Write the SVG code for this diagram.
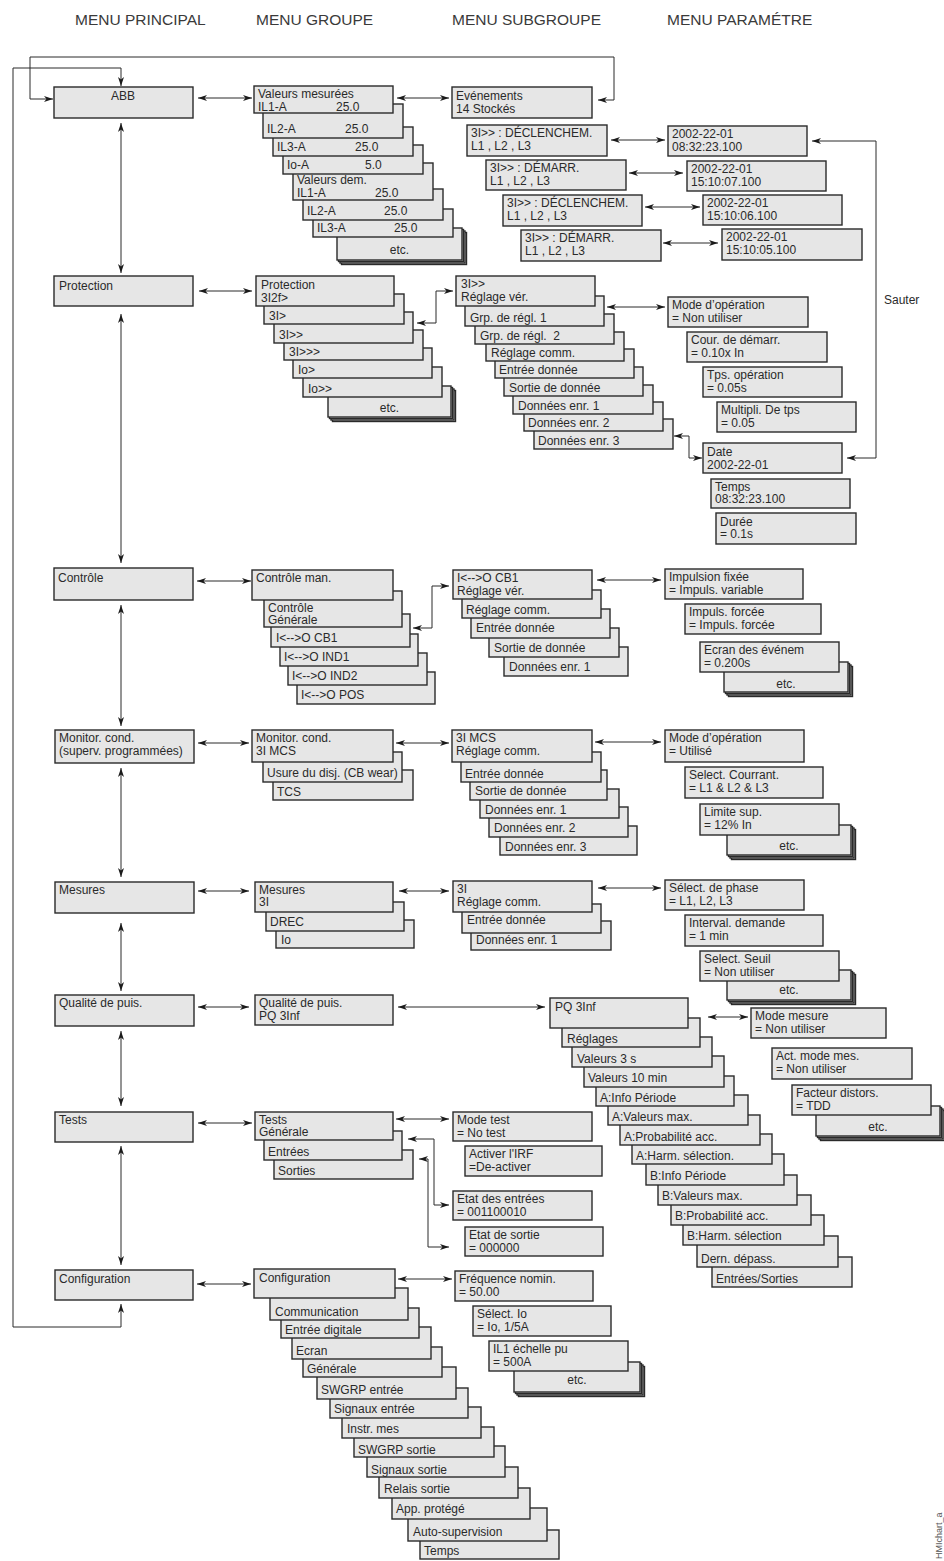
<svg xmlns="http://www.w3.org/2000/svg" width="944" height="1561" viewBox="0 0 944 1561">
<style>
.b{fill:#e6e6e6;stroke:#2a2a2a;stroke-width:1.4}
.t{font-family:"Liberation Sans",Arial,Helvetica,sans-serif;font-size:12px;fill:#2a2a2a}
.m{text-anchor:middle}
.h{font-family:"Liberation Sans",Arial,Helvetica,sans-serif;font-size:15.5px;fill:#3a3a3a}
.c{fill:none;stroke:#2a2a2a;stroke-width:1}
.d{marker-start:url(#a);marker-end:url(#a)}
.e{marker-end:url(#a)}
</style>
<defs>
<marker id="a" viewBox="0 0 9 6" refX="9" refY="3" markerWidth="9" markerHeight="6" markerUnits="userSpaceOnUse" orient="auto-start-reverse"><path d="M0,0 L9,3 L0,6 L2.5,3 z" fill="#1a1a1a"/></marker>
</defs>
<rect width="944" height="1561" fill="#fff"/>

<g id="headers">
<text class="h" x="75" y="25">MENU PRINCIPAL</text>
<text class="h" x="256" y="25">MENU GROUPE</text>
<text class="h" x="452" y="25">MENU SUBGROUPE</text>
<text class="h" x="667" y="25">MENU PARAMÉTRE</text>
</g>

<g id="connectors">
<path class="c d" d="M121,1304 V1327 H13 V68 H121 V86"/>
<path class="c d" d="M53,99 H30 V57 H614 V100 H598"/>
<path class="c d" d="M121,123 V273"/>
<path class="c d" d="M121,314 V563"/>
<path class="c d" d="M121,605 V726"/>
<path class="c d" d="M121,768 V877"/>
<path class="c d" d="M121,923 V991"/>
<path class="c d" d="M121,1031 V1106"/>
<path class="c d" d="M121,1146 V1265"/>
<path class="c d" d="M198,98 H252"/>
<path class="c d" d="M397,98 H449"/>
<path class="c d" d="M611,140 H665"/>
<path class="c d" d="M629,173 H683"/>
<path class="c d" d="M645,207 H700"/>
<path class="c d" d="M663,243 H718"/>
<path class="c d" d="M847,458 H876 V141 H812"/>
<path class="c d" d="M199,291 H252"/>
<path class="c d" d="M453,291 H436 V323 H417"/>
<path class="c d" d="M607,307 H665"/>
<path class="c d" d="M674,436 H689 V458 H702"/>
<path class="c d" d="M197,581 H251"/>
<path class="c d" d="M449,586 H432 V628 H413"/>
<path class="c d" d="M597,580 H661"/>
<path class="c d" d="M198,743 H249"/>
<path class="c d" d="M396,743 H449"/>
<path class="c d" d="M595,742 H661"/>
<path class="c d" d="M198,891 H249"/>
<path class="c d" d="M399,891 H449"/>
<path class="c d" d="M598,888 H661"/>
<path class="c d" d="M198,1007 H249"/>
<path class="c d" d="M398,1007 H545"/>
<path class="c d" d="M708,1017 H748"/>
<path class="c d" d="M198,1123 H252"/>
<path class="c d" d="M396,1119 H449"/>
<path class="c d" d="M408,1139 H434 V1205 H449"/>
<path class="c d" d="M419,1159 H428 V1247 H449"/>
<path class="c d" d="M197,1284 H251"/>
<path class="c d" d="M398,1279 H452"/>
</g>

<!-- MENU PRINCIPAL -->
<g id="n-abb"><rect class="b" x="54" y="87" width="139" height="31"/><text class="t m" x="123" y="100">ABB</text></g>
<g id="n-protection"><rect class="b" x="54" y="276" width="139" height="30"/><text class="t" x="59" y="290">Protection</text></g>
<g id="n-controle"><rect class="b" x="54" y="568" width="139" height="32"/><text class="t" x="58" y="582">Contrôle</text></g>
<g id="n-monitor"><rect class="b" x="55" y="730" width="139" height="33"/><text class="t" x="59" y="742">Monitor. cond.</text><text class="t" x="59" y="755">(superv. programmées)</text></g>
<g id="n-mesures"><rect class="b" x="55" y="882" width="139" height="31"/><text class="t" x="59" y="894">Mesures</text></g>
<g id="n-qualite"><rect class="b" x="55" y="995" width="139" height="31"/><text class="t" x="59" y="1007">Qualité de puis.</text></g>
<g id="n-tests"><rect class="b" x="55" y="1112" width="138" height="30"/><text class="t" x="59" y="1124">Tests</text></g>
<g id="n-config"><rect class="b" x="55" y="1270" width="138" height="30"/><text class="t" x="59" y="1283">Configuration</text></g>

<!-- ABB group stack -->
<g id="abb-g8"><rect class="b" x="341.5" y="232.5" width="125" height="32"/><rect class="b" x="340" y="231" width="125" height="32"/><rect class="b" x="338.5" y="229.5" width="125" height="32"/><rect class="b" x="337" y="228" width="125" height="32"/><text class="t m" x="399.5" y="254">etc.</text></g>
<g id="abb-g7"><rect class="b" x="313" y="209" width="140" height="28"/><text class="t" x="317" y="232">IL3-A</text><text class="t" x="394" y="232">25.0</text></g>
<g id="abb-g6"><rect class="b" x="303" y="189" width="140" height="31"/><text class="t" x="307" y="215">IL2-A</text><text class="t" x="384" y="215">25.0</text></g>
<g id="abb-g5"><rect class="b" x="293" y="163" width="140" height="37"/><text class="t" x="297" y="184">Valeurs dem.</text><text class="t" x="297" y="197">IL1-A</text><text class="t" x="375" y="197">25.0</text></g>
<g id="abb-g4"><rect class="b" x="283" y="145" width="140" height="29"/><text class="t" x="287" y="169">Io-A</text><text class="t" x="365" y="169">5.0</text></g>
<g id="abb-g3"><rect class="b" x="273" y="127" width="140" height="29"/><text class="t" x="277" y="151">IL3-A</text><text class="t" x="355" y="151">25.0</text></g>
<g id="abb-g2"><rect class="b" x="263" y="104" width="140" height="34"/><text class="t" x="267" y="133">IL2-A</text><text class="t" x="345" y="133">25.0</text></g>
<g id="abb-g1"><rect class="b" x="254" y="86" width="139" height="27"/><text class="t" x="258" y="98">Valeurs mesurées</text><text class="t" x="258" y="110.5">IL1-A</text><text class="t" x="336" y="110.5">25.0</text></g>

<!-- ABB subgroup / events -->
<g id="ev-0"><rect class="b" x="452" y="87" width="140" height="31"/><text class="t" x="456" y="99.5">Evénements</text><text class="t" x="456" y="113">14 Stockés</text></g>
<g id="ev-1"><rect class="b" x="467" y="125" width="140" height="31"/><text class="t" x="471" y="137">3I&gt;&gt; : DÉCLENCHEM.</text><text class="t" x="471" y="150">L1 , L2 , L3</text></g>
<g id="ev-2"><rect class="b" x="486" y="160" width="140" height="30"/><text class="t" x="490" y="172">3I&gt;&gt; : DÉMARR.</text><text class="t" x="490" y="185">L1 , L2 , L3</text></g>
<g id="ev-3"><rect class="b" x="503" y="195" width="139" height="31"/><text class="t" x="507" y="207">3I&gt;&gt; : DÉCLENCHEM.</text><text class="t" x="507" y="220">L1 , L2 , L3</text></g>
<g id="ev-4"><rect class="b" x="521" y="230" width="140" height="31"/><text class="t" x="525" y="242">3I&gt;&gt; : DÉMARR.</text><text class="t" x="525" y="255">L1 , L2 , L3</text></g>
<g id="evp-1"><rect class="b" x="668" y="126" width="139" height="30"/><text class="t" x="672" y="138">2002-22-01</text><text class="t" x="672" y="151">08:32:23.100</text></g>
<g id="evp-2"><rect class="b" x="687" y="161" width="139" height="30"/><text class="t" x="691" y="173">2002-22-01</text><text class="t" x="691" y="186">15:10:07.100</text></g>
<g id="evp-3"><rect class="b" x="703" y="195" width="139" height="30"/><text class="t" x="707" y="207">2002-22-01</text><text class="t" x="707" y="220">15:10:06.100</text></g>
<g id="evp-4"><rect class="b" x="722" y="229" width="140" height="31"/><text class="t" x="726" y="241">2002-22-01</text><text class="t" x="726" y="254">15:10:05.100</text></g>
<g id="lbl-sauter"><text class="t" x="884" y="304">Sauter</text></g>

<!-- Protection group stack -->
<g id="pr-g7"><rect class="b" x="332.5" y="390.5" width="123" height="31"/><rect class="b" x="331" y="389" width="123" height="31"/><rect class="b" x="329.5" y="387.5" width="123" height="31"/><rect class="b" x="328" y="386" width="123" height="31"/><text class="t m" x="389.5" y="412">etc.</text></g>
<g id="pr-g6"><rect class="b" x="303" y="367" width="139" height="30"/><text class="t" x="308" y="393">Io&gt;&gt;</text></g>
<g id="pr-g5"><rect class="b" x="293" y="348" width="139" height="30"/><text class="t" x="298" y="374">Io&gt;</text></g>
<g id="pr-g4"><rect class="b" x="284" y="330" width="139" height="30"/><text class="t" x="289" y="356">3I&gt;&gt;&gt;</text></g>
<g id="pr-g3"><rect class="b" x="274" y="312" width="139" height="31"/><text class="t" x="279" y="339">3I&gt;&gt;</text></g>
<g id="pr-g2"><rect class="b" x="264" y="294" width="140" height="30"/><text class="t" x="269" y="320">3I&gt;</text></g>
<g id="pr-g1"><rect class="b" x="256" y="276" width="138" height="30"/><text class="t" x="261" y="289">Protection</text><text class="t" x="261" y="302">3I2f&gt;</text></g>

<!-- Protection subgroup stack -->
<g id="pr-s9"><rect class="b" x="534" y="419" width="139" height="30"/><text class="t" x="538" y="445">Données enr. 3</text></g>
<g id="pr-s8"><rect class="b" x="524" y="402" width="139" height="29"/><text class="t" x="528" y="427">Données enr. 2</text></g>
<g id="pr-s7"><rect class="b" x="513" y="385" width="140" height="29"/><text class="t" x="518" y="410">Données enr. 1</text></g>
<g id="pr-s6"><rect class="b" x="504" y="367" width="139" height="29"/><text class="t" x="509" y="392">Sortie de donnée</text></g>
<g id="pr-s5"><rect class="b" x="495" y="349" width="139" height="29"/><text class="t" x="499" y="374">Entrée donnée</text></g>
<g id="pr-s4"><rect class="b" x="486" y="332" width="138" height="29"/><text class="t" x="491" y="357">Réglage comm.</text></g>
<g id="pr-s3"><rect class="b" x="475" y="314" width="139" height="30"/><text class="t" x="480" y="340">Grp. de régl.&#160; 2</text></g>
<g id="pr-s2"><rect class="b" x="465" y="296" width="139" height="30"/><text class="t" x="470" y="322">Grp. de régl. 1</text></g>
<g id="pr-s1"><rect class="b" x="456" y="276" width="139" height="30"/><text class="t" x="461" y="288">3I&gt;&gt;</text><text class="t" x="461" y="301">Réglage vér.</text></g>

<!-- Protection parameters -->
<g id="pr-p1"><rect class="b" x="668" y="297" width="140" height="30"/><text class="t" x="672" y="309">Mode d’opération</text><text class="t" x="672" y="322">= Non utiliser</text></g>
<g id="pr-p2"><rect class="b" x="687" y="332" width="140" height="30"/><text class="t" x="691" y="344">Cour. de démarr.</text><text class="t" x="691" y="357">= 0.10x In</text></g>
<g id="pr-p3"><rect class="b" x="703" y="367" width="139" height="30"/><text class="t" x="707" y="379">Tps. opération</text><text class="t" x="707" y="392">= 0.05s</text></g>
<g id="pr-p4"><rect class="b" x="717" y="402" width="139" height="30"/><text class="t" x="721" y="414">Multipli. De tps</text><text class="t" x="721" y="427">= 0.05</text></g>
<g id="pr-p5"><rect class="b" x="703" y="443" width="139" height="30"/><text class="t" x="707" y="456">Date</text><text class="t" x="707" y="469">2002-22-01</text></g>
<g id="pr-p6"><rect class="b" x="711" y="479" width="139" height="29"/><text class="t" x="715" y="491">Temps</text><text class="t" x="715" y="503">08:32:23.100</text></g>
<g id="pr-p7"><rect class="b" x="716" y="513" width="140" height="31"/><text class="t" x="720" y="526">Durée</text><text class="t" x="720" y="538">= 0.1s</text></g>

<!-- Contrôle -->
<g id="ct-g6"><rect class="b" x="297" y="672" width="138" height="32"/><text class="t" x="301" y="699">I&lt;--&gt;O POS</text></g>
<g id="ct-g5"><rect class="b" x="288" y="653" width="139" height="32"/><text class="t" x="292" y="680">I&lt;--&gt;O IND2</text></g>
<g id="ct-g4"><rect class="b" x="280" y="634" width="138" height="32"/><text class="t" x="284" y="661">I&lt;--&gt;O IND1</text></g>
<g id="ct-g3"><rect class="b" x="271" y="614" width="139" height="33"/><text class="t" x="276" y="642">I&lt;--&gt;O CB1</text></g>
<g id="ct-g2"><rect class="b" x="264" y="591" width="138" height="36"/><text class="t" x="268" y="612">Contrôle</text><text class="t" x="268" y="624">Générale</text></g>
<g id="ct-g1"><rect class="b" x="252" y="570" width="141" height="30"/><text class="t" x="256" y="582">Contrôle man.</text></g>
<g id="ct-s5"><rect class="b" x="504" y="647" width="124" height="29"/><text class="t" x="509" y="671">Données enr. 1</text></g>
<g id="ct-s4"><rect class="b" x="489" y="628" width="130" height="29"/><text class="t" x="494" y="652">Sortie de donnée</text></g>
<g id="ct-s3"><rect class="b" x="471" y="609" width="139" height="29"/><text class="t" x="476" y="632">Entrée donnée</text></g>
<g id="ct-s2"><rect class="b" x="462" y="590" width="139" height="28"/><text class="t" x="466" y="614">Réglage comm.</text></g>
<g id="ct-s1"><rect class="b" x="453" y="570" width="139" height="29"/><text class="t" x="457" y="582">I&lt;--&gt;O CB1</text><text class="t" x="457" y="595">Réglage vér.</text></g>
<g id="ct-p4"><rect class="b" x="728.5" y="666.5" width="124" height="30"/><rect class="b" x="727" y="665" width="124" height="30"/><rect class="b" x="725.5" y="663.5" width="124" height="30"/><rect class="b" x="724" y="662" width="124" height="30"/><text class="t m" x="786" y="688">etc.</text></g>
<g id="ct-p3"><rect class="b" x="700" y="642" width="139" height="30"/><text class="t" x="704" y="654">Ecran des événem</text><text class="t" x="704" y="667">= 0.200s</text></g>
<g id="ct-p2"><rect class="b" x="685" y="604" width="136" height="30"/><text class="t" x="689" y="616">Impuls. forcée</text><text class="t" x="689" y="629">= Impuls. forcée</text></g>
<g id="ct-p1"><rect class="b" x="665" y="569" width="138" height="30"/><text class="t" x="669" y="581">Impulsion fixée</text><text class="t" x="669" y="594">= Impuls. variable</text></g>

<!-- Monitor -->
<g id="mo-g3"><rect class="b" x="273" y="770" width="140" height="30"/><text class="t" x="277" y="796">TCS</text></g>
<g id="mo-g2"><rect class="b" x="263" y="752" width="139" height="30"/><text class="t" x="267" y="777">Usure du disj. (CB wear)</text></g>
<g id="mo-g1"><rect class="b" x="252" y="730" width="141" height="32"/><text class="t" x="256" y="742">Monitor. cond.</text><text class="t" x="256" y="755">3I MCS</text></g>
<g id="mo-s6"><rect class="b" x="500" y="826" width="137" height="29"/><text class="t" x="505" y="851">Données enr. 3</text></g>
<g id="mo-s5"><rect class="b" x="489" y="807" width="139" height="30"/><text class="t" x="494" y="832">Données enr. 2</text></g>
<g id="mo-s4"><rect class="b" x="480" y="789" width="139" height="29"/><text class="t" x="485" y="814">Données enr. 1</text></g>
<g id="mo-s3"><rect class="b" x="470" y="770" width="137" height="30"/><text class="t" x="475" y="795">Sortie de donnée</text></g>
<g id="mo-s2"><rect class="b" x="461" y="752" width="140" height="30"/><text class="t" x="465" y="778">Entrée donnée</text></g>
<g id="mo-s1"><rect class="b" x="452" y="730" width="140" height="32"/><text class="t" x="456" y="742">3I MCS</text><text class="t" x="456" y="755">Réglage comm.</text></g>
<g id="mo-p4"><rect class="b" x="731.5" y="829.5" width="124" height="30"/><rect class="b" x="730" y="828" width="124" height="30"/><rect class="b" x="728.5" y="826.5" width="124" height="30"/><rect class="b" x="727" y="825" width="124" height="30"/><text class="t m" x="789" y="850">etc.</text></g>
<g id="mo-p3"><rect class="b" x="700" y="804" width="139" height="31"/><text class="t" x="704" y="816">Limite sup.</text><text class="t" x="704" y="829">= 12% In</text></g>
<g id="mo-p2"><rect class="b" x="685" y="767" width="138" height="31"/><text class="t" x="689" y="779">Select. Courrant.</text><text class="t" x="689" y="792">= L1 &amp; L2 &amp; L3</text></g>
<g id="mo-p1"><rect class="b" x="665" y="730" width="139" height="32"/><text class="t" x="669" y="742">Mode d’opération</text><text class="t" x="669" y="755">= Utilisé</text></g>

<!-- Mesures -->
<g id="me-g3"><rect class="b" x="276" y="920" width="138" height="28"/><text class="t" x="281" y="944">Io</text></g>
<g id="me-g2"><rect class="b" x="266" y="902" width="138" height="29"/><text class="t" x="270" y="926">DREC</text></g>
<g id="me-g1"><rect class="b" x="255" y="882" width="138" height="30"/><text class="t" x="259" y="894">Mesures</text><text class="t" x="259" y="906">3I</text></g>
<g id="me-s3"><rect class="b" x="471" y="921" width="140" height="29"/><text class="t" x="476" y="944">Données enr. 1</text></g>
<g id="me-s2"><rect class="b" x="462" y="904" width="139" height="29"/><text class="t" x="467" y="924">Entrée donnée</text></g>
<g id="me-s1"><rect class="b" x="453" y="881" width="139" height="31"/><text class="t" x="457" y="893">3I</text><text class="t" x="457" y="906">Réglage comm.</text></g>
<g id="me-p4"><rect class="b" x="731.5" y="974.5" width="124" height="30"/><rect class="b" x="730" y="973" width="124" height="30"/><rect class="b" x="728.5" y="971.5" width="124" height="30"/><rect class="b" x="727" y="970" width="124" height="30"/><text class="t m" x="789" y="994">etc.</text></g>
<g id="me-p3"><rect class="b" x="700" y="951" width="139" height="30"/><text class="t" x="704" y="963">Select. Seuil</text><text class="t" x="704" y="976">= Non utiliser</text></g>
<g id="me-p2"><rect class="b" x="685" y="915" width="138" height="31"/><text class="t" x="689" y="927">Interval. demande</text><text class="t" x="689" y="940">= 1 min</text></g>
<g id="me-p1"><rect class="b" x="665" y="880" width="139" height="30"/><text class="t" x="669" y="892">Sélect. de phase</text><text class="t" x="669" y="905">= L1, L2, L3</text></g>

<!-- Qualité -->
<g id="qu-g1"><rect class="b" x="255" y="995" width="138" height="30"/><text class="t" x="259" y="1007">Qualité de puis.</text><text class="t" x="259" y="1020">PQ 3Inf</text></g>
<g id="qu-s14"><rect class="b" x="712" y="1257" width="140" height="30"/><text class="t" x="716" y="1283">Entrées/Sorties</text></g>
<g id="qu-s13"><rect class="b" x="697" y="1236" width="141" height="31"/><text class="t" x="701" y="1263">Dern. dépass.</text></g>
<g id="qu-s12"><rect class="b" x="683" y="1215" width="141" height="30"/><text class="t" x="687" y="1240">B:Harm. sélection</text></g>
<g id="qu-s11"><rect class="b" x="671" y="1195" width="140" height="30"/><text class="t" x="675" y="1220">B:Probabilité acc.</text></g>
<g id="qu-s10"><rect class="b" x="658" y="1175" width="139" height="30"/><text class="t" x="662" y="1200">B:Valeurs max.</text></g>
<g id="qu-s9"><rect class="b" x="646" y="1154" width="138" height="31"/><text class="t" x="650" y="1180">B:Info Période</text></g>
<g id="qu-s8"><rect class="b" x="632" y="1134" width="140" height="30"/><text class="t" x="636" y="1160">A:Harm. sélection.</text></g>
<g id="qu-s7"><rect class="b" x="620" y="1115" width="140" height="30"/><text class="t" x="624" y="1141">A:Probabilité acc.</text></g>
<g id="qu-s6"><rect class="b" x="608" y="1095" width="140" height="30"/><text class="t" x="612" y="1121">A:Valeurs max.</text></g>
<g id="qu-s5"><rect class="b" x="596" y="1076" width="138" height="30"/><text class="t" x="600" y="1102">A:Info Période</text></g>
<g id="qu-s4"><rect class="b" x="584" y="1056" width="140" height="31"/><text class="t" x="588" y="1082">Valeurs 10 min</text></g>
<g id="qu-s3"><rect class="b" x="572" y="1037" width="140" height="30"/><text class="t" x="577" y="1063">Valeurs 3 s</text></g>
<g id="qu-s2"><rect class="b" x="562" y="1018" width="138" height="29"/><text class="t" x="567" y="1043">Réglages</text></g>
<g id="qu-s1"><rect class="b" x="550" y="998" width="138" height="30"/><text class="t" x="555" y="1011">PQ 3Inf</text></g>
<g id="qu-p4"><rect class="b" x="820.5" y="1110.5" width="124" height="30"/><rect class="b" x="819" y="1109" width="124" height="30"/><rect class="b" x="817.5" y="1107.5" width="124" height="30"/><rect class="b" x="816" y="1106" width="124" height="30"/><text class="t m" x="878" y="1131">etc.</text></g>
<g id="qu-p3"><rect class="b" x="792" y="1085" width="139" height="30"/><text class="t" x="796" y="1097">Facteur distors.</text><text class="t" x="796" y="1110">= TDD</text></g>
<g id="qu-p2"><rect class="b" x="772" y="1048" width="140" height="31"/><text class="t" x="776" y="1060">Act. mode mes.</text><text class="t" x="776" y="1073">= Non utiliser</text></g>
<g id="qu-p1"><rect class="b" x="751" y="1008" width="135" height="30"/><text class="t" x="755" y="1020">Mode mesure</text><text class="t" x="755" y="1033">= Non utiliser</text></g>

<!-- Tests -->
<g id="te-g3"><rect class="b" x="274" y="1150" width="139" height="29"/><text class="t" x="278" y="1175">Sorties</text></g>
<g id="te-g2"><rect class="b" x="264" y="1131" width="138" height="29"/><text class="t" x="268" y="1156">Entrées</text></g>
<g id="te-g1"><rect class="b" x="255" y="1112" width="138" height="28"/><text class="t" x="259" y="1124">Tests</text><text class="t" x="259" y="1136">Générale</text></g>
<g id="te-p1"><rect class="b" x="453" y="1112" width="139" height="29"/><text class="t" x="457" y="1124">Mode test</text><text class="t" x="457" y="1137">= No test</text></g>
<g id="te-p2"><rect class="b" x="465" y="1146" width="137" height="30"/><text class="t" x="469" y="1158">Activer l'IRF</text><text class="t" x="469" y="1171">=De-activer</text></g>
<g id="te-p3"><rect class="b" x="453" y="1191" width="139" height="29"/><text class="t" x="457" y="1203">Etat des entrées</text><text class="t" x="457" y="1216">= 001100010</text></g>
<g id="te-p4"><rect class="b" x="465" y="1227" width="138" height="29"/><text class="t" x="469" y="1239">Etat de sortie</text><text class="t" x="469" y="1252">= 000000</text></g>

<!-- Configuration -->
<g id="cf-g14"><rect class="b" x="420" y="1530" width="139" height="29"/><text class="t" x="424" y="1555">Temps</text></g>
<g id="cf-g13"><rect class="b" x="408" y="1508" width="139" height="33"/><text class="t" x="413" y="1536">Auto-supervision</text></g>
<g id="cf-g12"><rect class="b" x="392" y="1488" width="138" height="31"/><text class="t" x="396" y="1513">App. protégé</text></g>
<g id="cf-g11"><rect class="b" x="379" y="1467" width="139" height="31"/><text class="t" x="384" y="1493">Relais sortie</text></g>
<g id="cf-g10"><rect class="b" x="367" y="1446" width="138" height="31"/><text class="t" x="371" y="1474">Signaux sortie</text></g>
<g id="cf-g9"><rect class="b" x="354" y="1427" width="140" height="30"/><text class="t" x="358" y="1454">SWGRP sortie</text></g>
<g id="cf-g8"><rect class="b" x="342" y="1407" width="139" height="31"/><text class="t" x="347" y="1433">Instr. mes</text></g>
<g id="cf-g7"><rect class="b" x="330" y="1388" width="138" height="30"/><text class="t" x="334" y="1413">Signaux entrée</text></g>
<g id="cf-g6"><rect class="b" x="317" y="1367" width="139" height="32"/><text class="t" x="321" y="1394">SWGRP entrée</text></g>
<g id="cf-g5"><rect class="b" x="303" y="1347" width="139" height="30"/><text class="t" x="307" y="1373">Générale</text></g>
<g id="cf-g4"><rect class="b" x="292" y="1327" width="139" height="32"/><text class="t" x="296" y="1355">Ecran</text></g>
<g id="cf-g3"><rect class="b" x="281" y="1308" width="138" height="30"/><text class="t" x="285" y="1334">Entrée digitale</text></g>
<g id="cf-g2"><rect class="b" x="270" y="1288" width="138" height="32"/><text class="t" x="275" y="1316">Communication</text></g>
<g id="cf-g1"><rect class="b" x="254" y="1269" width="141" height="29"/><text class="t" x="259" y="1282">Configuration</text></g>
<g id="cf-p4"><rect class="b" x="518.5" y="1366.5" width="126" height="30"/><rect class="b" x="517" y="1365" width="126" height="30"/><rect class="b" x="515.5" y="1363.5" width="126" height="30"/><rect class="b" x="514" y="1362" width="126" height="30"/><text class="t m" x="577" y="1384">etc.</text></g>
<g id="cf-p3"><rect class="b" x="489" y="1341" width="139" height="30"/><text class="t" x="493" y="1353">IL1 échelle pu</text><text class="t" x="493" y="1366">= 500A</text></g>
<g id="cf-p2"><rect class="b" x="473" y="1306" width="138" height="30"/><text class="t" x="477" y="1318">Sélect. Io</text><text class="t" x="477" y="1331">= Io, 1/5A</text></g>
<g id="cf-p1"><rect class="b" x="455" y="1271" width="138" height="30"/><text class="t" x="459" y="1283">Fréquence nomin.</text><text class="t" x="459" y="1296">= 50.00</text></g>

<g id="edge-label"><text transform="translate(942,1559) rotate(-90)" font-family="Liberation Sans, Arial, sans-serif" font-size="9" fill="#555">HMIchart_a</text></g>
</svg>
